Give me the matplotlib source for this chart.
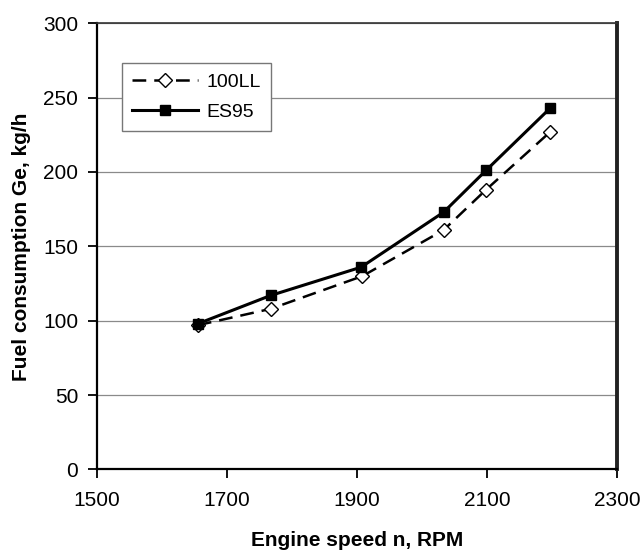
import matplotlib
matplotlib.use("Agg")
import matplotlib.pyplot as plt

# ============================
# Data
# ============================
rpm_100ll = [1655, 1767, 1908, 2033, 2098, 2197]
fuel_100ll = [97, 108, 130, 161, 188, 227]

rpm_es95 = [1655, 1767, 1906, 2033, 2098, 2197]
fuel_es95 = [98, 117, 136, 173, 201, 243]

x_ticks = [1500, 1700, 1900, 2100, 2300]
y_ticks = [0, 50, 100, 150, 200, 250, 300]

plt.rcParams["font.family"] = ["Liberation Sans", "DejaVu Sans"]

fig = plt.figure(figsize=(6.43, 5.53), dpi=100)
ax = fig.add_axes([0.151, 0.151, 0.809, 0.807])

ax.plot(rpm_100ll, fuel_100ll, color="black", lw=1.8, dashes=(5.5, 3.2),
        marker="D", markersize=7.5, markerfacecolor="white",
        markeredgecolor="black", markeredgewidth=1.0, label="100LL", zorder=3)
ax.plot(rpm_es95, fuel_es95, color="black", lw=2.2, linestyle="-",
        marker="s", markersize=6.5, markerfacecolor="black",
        markeredgecolor="black", label="ES95", zorder=4)

ax.set_xlim(1500, 2300)
ax.set_ylim(0, 300)
ax.set_xticks(x_ticks)
ax.set_yticks(y_ticks)
ax.tick_params(axis="both", labelsize=15, direction="out", length=6.5,
               width=1.3, colors="black")
ax.tick_params(axis="x", pad=9)
ax.tick_params(axis="y", pad=7)

ax.yaxis.grid(True, color="#8a8a8a", lw=0.9, linestyle="-")
ax.set_axisbelow(True)

ax.spines["left"].set_linewidth(1.6)
ax.spines["bottom"].set_linewidth(1.6)
ax.spines["top"].set_linewidth(1.2)
ax.spines["top"].set_color("#333333")
ax.spines["right"].set_linewidth(2.8)
ax.spines["right"].set_color("#222222")

ax.set_xlabel("Engine speed n, RPM", fontsize=15, fontweight="bold", labelpad=15)
ax.set_ylabel("Fuel consumption Ge, kg/h", fontsize=15, fontweight="bold", labelpad=9)

leg = ax.legend(loc="upper left", bbox_to_anchor=(0.047, 0.911),
                borderaxespad=0, fontsize=14, handlelength=3.4,
                handletextpad=0.4, labelspacing=0.6, borderpad=0.55,
                fancybox=False, framealpha=1, edgecolor="#777777")
leg.get_frame().set_linewidth(1.0)

fig.savefig("out.png", dpi=100, facecolor="white")
